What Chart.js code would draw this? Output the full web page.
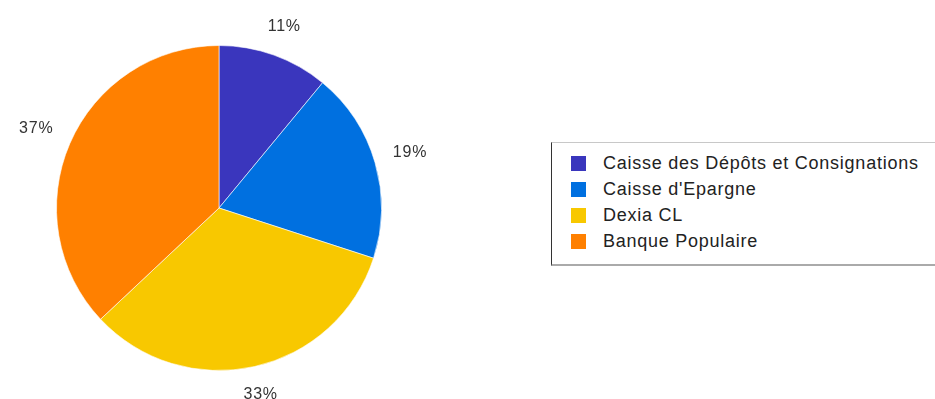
<!DOCTYPE html>
<html>
<head>
<meta charset="utf-8">
<script src="https://cdn.jsdelivr.net/npm/chart.js@4"></script>
<style>
  body { margin: 0; background: #fff; }
  #wrap { position: relative; width: 935px; height: 399px; overflow: hidden; }
  #pie { position: absolute; left: 0; top: 0; }
  #legende { position: absolute; left: 551px; top: 142px; width: 420px; height: 124px;
    border-top: 1px solid #c8c8c8; border-left: 1px solid #333; border-bottom: 2px solid #aaa;
    box-sizing: border-box; font-family: "Liberation Sans", Arial, sans-serif; font-size: 18px;
    letter-spacing: 0.75px; color: #222; }
  .ligne { position: absolute; left: 19px; height: 20px; line-height: 20px; white-space: nowrap; }
  .carre { display: inline-block; width: 15px; height: 15px; vertical-align: -2px; margin-right: 17px; }
</style>
</head>
<body>
<div id="wrap">
  <canvas id="pie" width="438" height="399"></canvas>
  <div id="legende"></div>
</div>
<script>
const banques = ['Caisse des Dépôts et Consignations', "Caisse d'Epargne", 'Dexia CL', 'Banque Populaire']
const parts = [11, 19, 33, 37]
const couleurs = ['#3a36bd', '#0070e0', '#f8c800', '#ff8000']

// legende a droite, construite depuis les tableaux
const legende = document.querySelector('#legende')
banques.forEach((nom, i) => {
  const ligne = document.createElement('div')
  ligne.className = 'ligne'
  ligne.style.top = (10 + i * 26) + 'px'
  ligne.innerHTML = `<span class="carre" style="background:${couleurs[i]}"></span>${nom}`
  legende.appendChild(ligne)
})

// pourcentages autour du camembert
const etiquettes = {
  id: 'etiquettes',
  afterDatasetsDraw(chart) {
    const ctx = chart.ctx
    const meta = chart.getDatasetMeta(0)
    ctx.save()
    ctx.font = '16px "Liberation Sans", Arial, sans-serif'
    ctx.letterSpacing = '0.8px'
    ctx.fillStyle = '#333'
    ctx.textAlign = 'center'
    ctx.textBaseline = 'middle'
    meta.data.forEach((arc, i) => {
      const p = arc.getProps(['x', 'y', 'startAngle', 'endAngle', 'outerRadius'], true)
      const a = (p.startAngle + p.endAngle) / 2
      const txt = parts[i] + '%'
      const demiL = ctx.measureText(txt).width / 2
      const ux = Math.cos(a), uy = Math.sin(a)
      const r = p.outerRadius + 18 + Math.abs(ux) * demiL + Math.abs(uy) * 7
      ctx.fillText(txt, p.x + ux * r, p.y + uy * r)
    })
    ctx.restore()
  }
}

new Chart(document.getElementById('pie'), {
  type: 'pie',
  data: {
    labels: banques,
    datasets: [{ data: parts, backgroundColor: couleurs, borderColor: 'rgba(255,255,255,0.6)', borderWidth: 1 }]
  },
  options: {
    responsive: false,
    animation: false,
    layout: { padding: { left: 56, right: 56, top: 45, bottom: 28 } },
    plugins: { legend: { display: false }, tooltip: { enabled: false } }
  },
  plugins: [etiquettes]
})
</script>
</body>
</html>
